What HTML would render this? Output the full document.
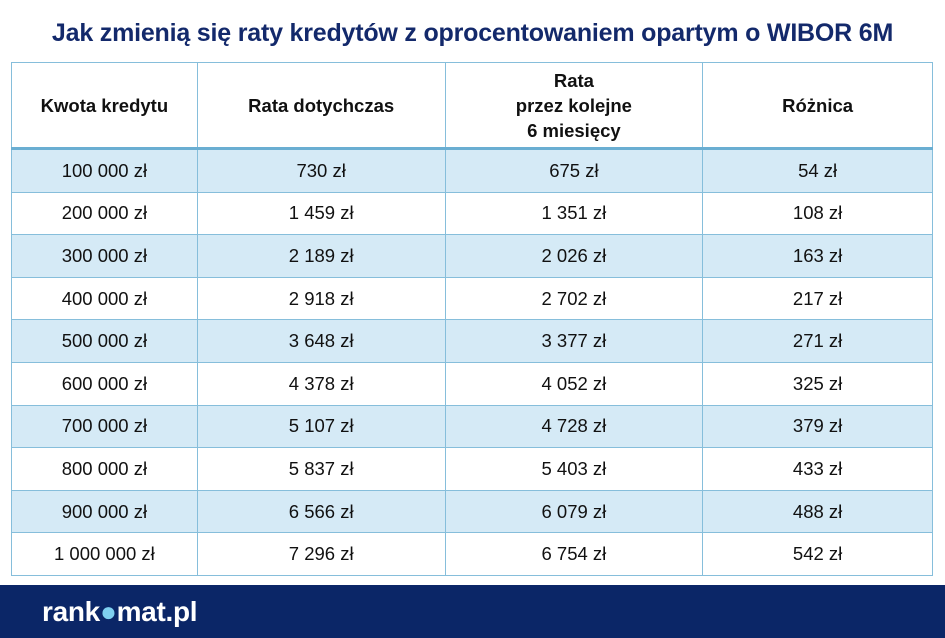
<!DOCTYPE html>
<html><head><meta charset="utf-8"><style>
body{margin:0;width:945px;height:638px;background:#fff;position:relative;overflow:hidden;font-family:"Liberation Sans",sans-serif}
.t{position:absolute;top:19px;left:0;width:945px;text-align:center;font-weight:bold;font-size:25px;color:#13296b;letter-spacing:-0.2px}
table{position:absolute;left:11px;top:62px;width:922px;border-collapse:collapse}
td,th{border:1.5px solid #86bedb;text-align:center;font-size:18.5px;color:#111;padding:0}
th{height:84px;font-weight:bold;line-height:25px}
thead tr{border-bottom:3px solid #6aaed2}
td{height:41.6px}
tbody tr:nth-child(odd){background:#d5eaf6}
.f{position:absolute;left:0;top:585px;width:945px;height:53px;background:#0b2667}
.l{position:absolute;left:42px;top:11px;color:#fff;font-weight:bold;font-size:28px;letter-spacing:-0.3px}
</style></head><body>
<div class="t">Jak zmienią się raty kredytów z oprocentowaniem opartym o WIBOR 6M</div>
<table>
<colgroup><col style="width:186px"><col style="width:248px"><col style="width:258px"><col style="width:230px"></colgroup>
<thead><tr><th>Kwota kredytu</th><th>Rata dotychczas</th><th>Rata<br>przez kolejne<br>6 miesięcy</th><th>Różnica</th></tr></thead>
<tbody>
<tr><td>100 000 zł</td><td>730 zł</td><td>675 zł</td><td>54 zł</td></tr>
<tr><td>200 000 zł</td><td>1 459 zł</td><td>1 351 zł</td><td>108 zł</td></tr>
<tr><td>300 000 zł</td><td>2 189 zł</td><td>2 026 zł</td><td>163 zł</td></tr>
<tr><td>400 000 zł</td><td>2 918 zł</td><td>2 702 zł</td><td>217 zł</td></tr>
<tr><td>500 000 zł</td><td>3 648 zł</td><td>3 377 zł</td><td>271 zł</td></tr>
<tr><td>600 000 zł</td><td>4 378 zł</td><td>4 052 zł</td><td>325 zł</td></tr>
<tr><td>700 000 zł</td><td>5 107 zł</td><td>4 728 zł</td><td>379 zł</td></tr>
<tr><td>800 000 zł</td><td>5 837 zł</td><td>5 403 zł</td><td>433 zł</td></tr>
<tr><td>900 000 zł</td><td>6 566 zł</td><td>6 079 zł</td><td>488 zł</td></tr>
<tr><td>1 000 000 zł</td><td>7 296 zł</td><td>6 754 zł</td><td>542 zł</td></tr>
</tbody></table>
<div class="f"><div class="l">rank<span style="color:#7fd0f0">●</span>mat.pl</div></div>
</body></html>
